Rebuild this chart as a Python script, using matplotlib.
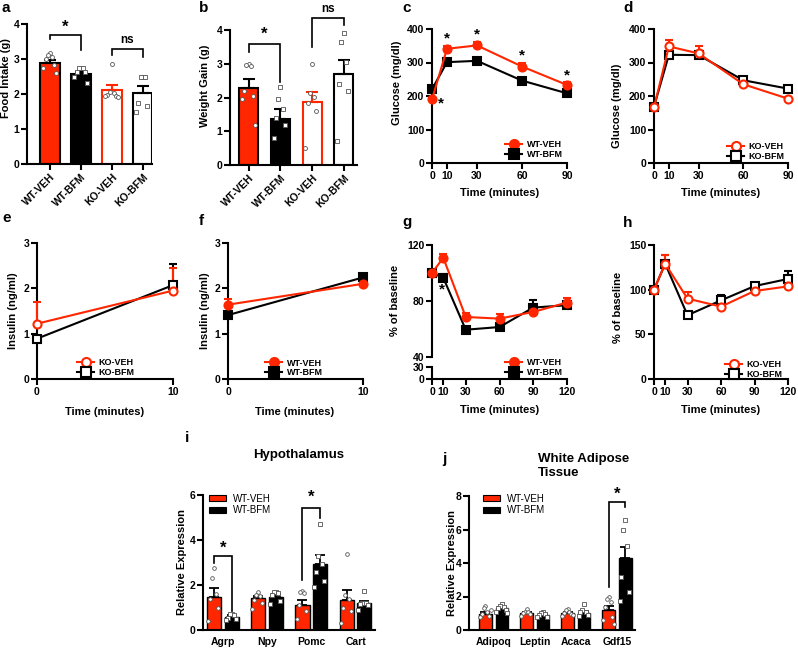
import numpy as np
import matplotlib
matplotlib.use('Agg')
import matplotlib.pyplot as plt
import matplotlib.transforms as mtransforms
from matplotlib.lines import Line2D
from matplotlib.patches import Patch

plt.rcParams['font.family'] = ['Liberation Sans', 'DejaVu Sans']
plt.rcParams['font.weight'] = 'bold'
plt.rcParams['axes.labelweight'] = 'bold'

W, H = 798, 649
RED = '#FF2600'

# ---------------- data ----------------
groups_ab = ['WT-VEH', 'WT-BFM', 'KO-VEH', 'KO-BFM']
food_mean = [2.88, 2.56, 2.10, 2.02]
food_err = [0.10, 0.08, 0.15, 0.20]
food_pts = [[3.17, 3.11, 3.06, 3.00, 2.83, 2.75, 2.60],
            [2.74, 2.74, 2.74, 2.63, 2.63, 2.49, 2.31],
            [2.85, 2.05, 2.02, 1.98, 1.95, 1.93, 1.92],
            [2.49, 2.49, 2.49, 1.74, 1.67, 1.49]]

gain_mean = [2.28, 1.35, 1.87, 2.70]
gain_err = [0.27, 0.32, 0.28, 0.40]
gain_pts = [[3.00, 2.95, 2.92, 2.20, 2.05, 1.95, 1.20],
            [2.30, 1.96, 1.66, 1.40, 1.20, 0.81],
            [3.00, 2.12, 2.02, 1.85, 1.60, 0.50],
            [3.90, 3.65, 3.05, 2.40, 2.20, 0.70]]

t_gtt = [0, 10, 30, 60, 90]
c_wtveh = [190, 341, 351, 288, 233]
c_wtveh_err = [5, 9, 9, 10, 10]
c_wtbfm = [220, 301, 305, 246, 208]
c_wtbfm_err = [6, 6, 6, 6, 6]
d_koveh = [166, 348, 327, 235, 192]
d_koveh_err = [5, 20, 21, 6, 6]
d_kobfm = [168, 323, 322, 247, 222]
d_kobfm_err = [5, 6, 6, 6, 6]

t_ins = [0, 10]
e_koveh = [1.22, 1.95]
e_koveh_err = [0.48, 0.49]
e_kobfm = [0.89, 2.07]
e_kobfm_err = [0.05, 0.47]
f_wtveh = [1.64, 2.10]
f_wtveh_err = [0.12, 0.05]
f_wtbfm = [1.41, 2.24]
f_wtbfm_err = [0.05, 0.07]

t_itt = [0, 10, 30, 60, 90, 120]
g_wtveh = [100, 110.9, 68.6, 67.4, 72.2, 78.9]
g_wtveh_err = [0, 3, 2.5, 3.5, 1.5, 3]
g_wtbfm = [100, 96.6, 59.5, 61.4, 75.3, 77.0]
g_wtbfm_err = [0, 2.5, 1.5, 1.5, 5.5, 1.5]
h_koveh = [100, 129, 90, 81, 98.5, 103.7]
h_koveh_err = [0, 10, 7, 2, 2, 2]
h_kobfm = [100, 129, 71.4, 88, 104, 112]
h_kobfm_err = [0, 10, 2, 6, 2, 9]

i_genes = ['Agrp', 'Npy', 'Pomc', 'Cart']
i_veh_mean = [1.48, 1.44, 1.11, 1.32]
i_veh_err = [0.37, 0.08, 0.24, 0.46]
i_bfm_mean = [0.59, 1.47, 2.93, 1.18]
i_bfm_err = [0.09, 0.12, 0.42, 0.10]
i_veh_pts = [[2.75, 2.30, 1.60, 1.40, 1.00, 0.38],
             [1.70, 1.55, 1.50, 1.35, 1.20, 0.95],
             [1.75, 1.70, 1.65, 1.10, 0.85, 0.47],
             [3.40, 1.55, 1.40, 1.00, 0.85, 0.30]]
i_bfm_pts = [[0.72, 0.70, 0.65, 0.55, 0.50, 0.45],
             [1.70, 1.70, 1.65, 1.55, 1.30, 1.15],
             [4.70, 3.30, 2.95, 2.60, 2.20, 1.90],
             [1.75, 1.20, 1.20, 1.15, 1.10, 0.90]]

j_genes = ['Adipoq', 'Leptin', 'Acaca', 'Gdf15']
j_veh_mean = [0.95, 1.00, 1.03, 1.19]
j_veh_err = [0.15, 0.05, 0.07, 0.26]
j_bfm_mean = [1.29, 0.90, 1.03, 4.28]
j_bfm_err = [0.11, 0.08, 0.12, 0.67]
j_veh_pts = [[1.45, 1.30, 1.10, 0.95, 0.85, 0.75, 1.20],
             [1.25, 1.10, 1.05, 1.00, 0.95, 0.85],
             [1.25, 1.20, 1.10, 1.00, 0.95, 0.85, 0.90],
             [2.00, 1.85, 1.70, 1.40, 0.80, 0.60, 0.35]]
j_bfm_pts = [[1.55, 1.45, 1.35, 1.30, 1.20, 1.10, 1.00],
             [1.10, 1.00, 0.95, 0.90, 0.80, 0.75],
             [1.55, 1.20, 1.10, 1.05, 0.90, 0.85],
             [6.55, 5.95, 5.00, 3.15, 2.25, 1.75]]

# ---------------- helpers ----------------
fig = plt.figure(figsize=(W / 100, H / 100), dpi=100)
TICK = 7.5
LAB = 8


def ax_px(x0, x1, ytop, ybot):
    a = fig.add_axes([x0 / W, 1 - ybot / H, (x1 - x0) / W, (ybot - ytop) / H])
    a.patch.set_visible(False)
    return a


def style(ax):
    for s in ['top', 'right']:
        ax.spines[s].set_visible(False)
    for s in ['left', 'bottom']:
        ax.spines[s].set_linewidth(1.5)
    ax.tick_params(width=1.5, length=4, labelsize=TICK, pad=1.5)


def ylab(ax, text, xc, yc, size=LAB):
    ax.set_ylabel(text, fontsize=size, fontweight='bold')
    ax.yaxis.set_label_coords((xc + 5) / W, 1 - yc / H, transform=fig.transFigure)


def xlab(ax, text, xc, yc, size=LAB):
    ax.set_xlabel(text, fontsize=size, fontweight='bold')
    ax.xaxis.set_label_coords(xc / W, 1 - (yc - 5) / H, transform=fig.transFigure)


def spread(n, w):
    base = [0, -1, 1, -2, 2, -3, 3, -0.5, 0.5]
    return np.array(base[:n]) * w


def scatter_pts(ax, xc, pts, marker, w=0.06, s=8):
    ax.scatter(xc + spread(len(pts), w), pts, marker=marker, s=s, facecolor='white',
               edgecolor='#555555', linewidth=0.6, zorder=4, clip_on=False)


def bracket(ax, x0, x1, ytop, yl, yr, lw=1.2):
    ax.plot([x0, x0, x1, x1], [yl, ytop, ytop, yr], color='black', lw=lw,
            clip_on=False, zorder=5, solid_joinstyle='miter')


def star(ax, x, y, txt='*', size=12):
    ax.text(x, y, txt, ha='center', va='center', fontsize=size, fontweight='bold', clip_on=False)


def panel(x, y, t):
    fig.text(x / W, 1 - y / H, t, fontsize=11, fontweight='bold', ha='left', va='center')


def line_series(ax, t, y, err, color, marker, filled, ms=5.8):
    ax.errorbar(t, y, yerr=[np.zeros(len(err)), err], color=color, lw=1.5, marker=marker,
                ms=ms, mfc=color if filled else 'white', mec=color, mew=1.5,
                capsize=3, capthick=1.5, elinewidth=1.5, clip_on=False, zorder=3)


def line_legend(ax, labels, colors, markers, filled, left_px, cy_px, size=6.5):
    hs = [Line2D([], [], color=c, marker=m, ms=6.5, lw=1.5, mfc=c if f else 'white', mec=c, mew=1.5)
          for c, m, f in zip(colors, markers, filled)]
    leg = ax.legend(hs, labels, loc='center left', bbox_to_anchor=(left_px / W, 1 - cy_px / H),
                    bbox_transform=fig.transFigure, frameon=False, prop={'size': size, 'weight': 'bold'},
                    handlelength=1.9, handletextpad=0.5, labelspacing=0.1, borderpad=0, borderaxespad=0)
    leg.set_zorder(10)


faces_ab = [RED, 'black', 'white', 'white']
edges_ab = ['black', 'black', RED, 'black']
mk_ab = ['o', 's', 'o', 's']


def bar_panel(ax, means, errs, pts, xlim, width):
    x = np.arange(len(means))
    ax.bar(x, means, width=width, color=faces_ab, edgecolor=edges_ab, linewidth=1.5, zorder=2)
    for i in range(len(means)):
        ax.errorbar(x[i], means[i], yerr=[[0], [errs[i]]], fmt='none', ecolor=edges_ab[i],
                    elinewidth=1.5, capsize=4, capthick=1.5, zorder=3)
        scatter_pts(ax, x[i], pts[i], mk_ab[i], w=0.07)
    ax.set_xlim(*xlim)
    ax.set_ylim(0, 4)
    ax.set_yticks([0, 1, 2, 3, 4])
    ax.set_xticks(x)
    ax.set_xticklabels(groups_ab, rotation=45, ha='right', rotation_mode='anchor', fontsize=TICK)
    shift = mtransforms.ScaledTranslation(9 / 100, 0, fig.dpi_scale_trans)
    for lbl in ax.get_xticklabels():
        lbl.set_transform(lbl.get_transform() + shift)
    style(ax)


# ---------------- panel a ----------------
ax = ax_px(27, 152, 24, 164)
bar_panel(ax, food_mean, food_err, food_pts, (-0.74, 3.30), 0.63)
bracket(ax, 0, 1, 3.70, 3.56, 3.26)
star(ax, 0.5, 3.90)
bracket(ax, 2, 3, 3.28, 3.11, 3.07)
star(ax, 2.5, 3.55, 'ns', 8.5)
ylab(ax, 'Food Intake (g)', 6, 78)
panel(2, 8, 'a')

# ---------------- panel b ----------------
ax = ax_px(230, 357, 30, 165)
bar_panel(ax, gain_mean, gain_err, gain_pts, (-0.59, 3.42), 0.60)
bracket(ax, 0, 1, 3.60, 3.36, 2.47)
star(ax, 0.5, 3.86)
bracket(ax, 2, 3, 4.35, 3.50, 4.15)
star(ax, 2.5, 4.62, 'ns', 8.5)
ylab(ax, 'Weight Gain (g)', 205, 86)
panel(199, 8, 'b')

# ---------------- panel c ----------------
ax = ax_px(432, 567, 29, 163)
line_series(ax, t_gtt, c_wtbfm, c_wtbfm_err, 'black', 's', True)
line_series(ax, t_gtt, c_wtveh, c_wtveh_err, RED, 'o', True)
ax.set_xlim(0, 90)
ax.set_ylim(0, 400)
ax.set_xticks(t_gtt)
ax.set_yticks([0, 100, 200, 300, 400])
style(ax)
for xx, yy in zip([6, 10, 30, 60, 90], [178, 373, 383, 320, 260]):
    star(ax, xx, yy, size=11)
line_legend(ax, ['WT-VEH', 'WT-BFM'], [RED, 'black'], ['o', 's'], [True, True], 505, 149.5)
ylab(ax, 'Glucose (mg/dl)', 397, 83)
xlab(ax, 'Time (minutes)', 500, 193)
panel(402, 8, 'c')

# ---------------- panel d ----------------
ax = ax_px(654, 788, 29, 163)
line_series(ax, t_gtt, d_kobfm, d_kobfm_err, 'black', 's', False)
line_series(ax, t_gtt, d_koveh, d_koveh_err, RED, 'o', False)
ax.set_xlim(0, 90)
ax.set_ylim(0, 400)
ax.set_xticks(t_gtt)
ax.set_yticks([0, 100, 200, 300, 400])
style(ax)
line_legend(ax, ['KO-VEH', 'KO-BFM'], [RED, 'black'], ['o', 's'], [False, False], 727, 151.5)
ylab(ax, 'Glucose (mg/dl)', 617, 106)
xlab(ax, 'Time (minutes)', 721, 193)
panel(623, 8, 'd')

# ---------------- panel e ----------------
ax = ax_px(37, 173, 243, 379)
line_series(ax, t_ins, e_kobfm, e_kobfm_err, 'black', 's', False)
line_series(ax, t_ins, e_koveh, e_koveh_err, RED, 'o', False)
ax.set_xlim(0, 10)
ax.set_ylim(0, 3)
ax.set_xticks(t_ins)
ax.set_yticks([0, 1, 2, 3])
style(ax)
line_legend(ax, ['KO-VEH', 'KO-BFM'], [RED, 'black'], ['o', 's'], [False, False], 77, 367.5)
ylab(ax, 'Insulin (ng/ml)', 13, 311)
xlab(ax, 'Time (minutes)', 105, 412)
panel(2, 218, 'e')

# ---------------- panel f ----------------
ax = ax_px(228, 363, 243, 379)
line_series(ax, t_ins, f_wtbfm, f_wtbfm_err, 'black', 's', True)
line_series(ax, t_ins, f_wtveh, f_wtveh_err, RED, 'o', True)
ax.set_xlim(0, 10)
ax.set_ylim(0, 3)
ax.set_xticks(t_ins)
ax.set_yticks([0, 1, 2, 3])
style(ax)
line_legend(ax, ['WT-VEH', 'WT-BFM'], [RED, 'black'], ['o', 's'], [True, True], 265, 368)
ylab(ax, 'Insulin (ng/ml)', 205, 311)
xlab(ax, 'Time (minutes)', 295, 412)
panel(199, 221, 'f')

# ---------------- panel g (broken axis) ----------------
axg2 = ax_px(432, 567, 367, 379)
axg2.set_xlim(0, 120)
axg2.set_ylim(0, 30)
axg2.set_yticks([0, 30])
axg2.set_xticks(t_itt)
style(axg2)
axg = ax_px(432, 567, 245, 357)
line_series(axg, t_itt, g_wtbfm, g_wtbfm_err, 'black', 's', True)
line_series(axg, t_itt, g_wtveh, g_wtveh_err, RED, 'o', True)
axg.set_xlim(0, 120)
axg.set_ylim(40, 120)
axg.set_yticks([40, 80, 120])
style(axg)
axg.spines['bottom'].set_visible(False)
axg.tick_params(axis='x', bottom=False, labelbottom=False)
star(axg, 9, 88, size=11)
line_legend(axg, ['WT-VEH', 'WT-BFM'], [RED, 'black'], ['o', 's'], [True, True], 505, 367.5)
ylab(axg, '% of baseline', 395, 300)
xlab(axg2, 'Time (minutes)', 500, 410)
panel(402, 222, 'g')

# ---------------- panel h ----------------
ax = ax_px(654, 788, 245, 379)
line_series(ax, t_itt, h_kobfm, h_kobfm_err, 'black', 's', False)
line_series(ax, t_itt, h_koveh, h_koveh_err, RED, 'o', False)
ax.set_xlim(0, 120)
ax.set_ylim(0, 150)
ax.set_xticks(t_itt)
ax.set_yticks([0, 50, 100, 150])
style(ax)
line_legend(ax, ['KO-VEH', 'KO-BFM'], [RED, 'black'], ['o', 's'], [False, False], 725, 369.5)
ylab(ax, '% of baseline', 618, 307)
xlab(ax, 'Time (minutes)', 721, 410)
panel(623, 223, 'h')


# ---------------- expression panels ----------------
def expr_panel(ax, genes, vm, ve, bm, be, vp, bp, off, width):
    x = np.arange(len(genes))
    ax.bar(x - off, vm, width=width, color=RED, edgecolor='black', linewidth=1.0, zorder=2)
    ax.bar(x + off, bm, width=width, color='black', edgecolor='black', linewidth=1.0, zorder=2)
    ax.errorbar(x - off, vm, yerr=[np.zeros(len(ve)), ve], fmt='none', ecolor='black',
                elinewidth=1.3, capsize=3.5, capthick=1.3, zorder=3)
    ax.errorbar(x + off, bm, yerr=[np.zeros(len(be)), be], fmt='none', ecolor='black',
                elinewidth=1.3, capsize=3.5, capthick=1.3, zorder=3)
    for k in range(len(genes)):
        scatter_pts(ax, x[k] - off, vp[k], 'o', w=0.045, s=7)
        scatter_pts(ax, x[k] + off, bp[k], 's', w=0.045, s=7)
    ax.set_xticks(x)
    ax.set_xticklabels(genes, fontsize=8)
    style(ax)
    ax.tick_params(axis='x', length=0, pad=5)
    return x


def expr_legend(ax, left_px, cy_px):
    hs = [Patch(facecolor=RED, edgecolor='black', lw=0.8), Patch(facecolor='black', edgecolor='black', lw=0.8)]
    ax.legend(hs, ['WT-VEH', 'WT-BFM'], loc='center left', bbox_to_anchor=(left_px / W, 1 - cy_px / H),
              bbox_transform=fig.transFigure, frameon=False, prop={'size': 7, 'weight': 'normal'},
              handlelength=1.7, handleheight=0.6, handletextpad=0.8, labelspacing=0.15,
              borderpad=0, borderaxespad=0)


# panel i
ax = ax_px(203, 375, 495, 630)
expr_panel(ax, i_genes, i_veh_mean, i_veh_err, i_bfm_mean, i_bfm_err, i_veh_pts, i_bfm_pts, 0.2, 0.32)
ax.set_xlim(-0.45, 3.44)
ax.set_ylim(0, 6)
ax.set_yticks([0, 2, 4, 6])
bracket(ax, -0.2, 0.2, 3.29, 3.00, 0.85)
star(ax, 0.0, 3.62)
bracket(ax, 1.8, 2.2, 5.44, 2.22, 5.00)
star(ax, 2.0, 5.92)
expr_legend(ax, 209, 504.5)
ylab(ax, 'Relative Expression', 182, 562)
fig.text(299 / W, 1 - 455 / H, 'Hypothalamus', fontsize=9.5, fontweight='bold', ha='center', va='center')
panel(185, 438, 'i')

# panel j
ax = ax_px(469, 635, 496, 630)
expr_panel(ax, j_genes, j_veh_mean, j_veh_err, j_bfm_mean, j_bfm_err, j_veh_pts, j_bfm_pts, 0.2, 0.31)
ax.set_xlim(-0.6, 3.44)
ax.set_ylim(0, 8)
ax.set_yticks([0, 2, 4, 6, 8])
bracket(ax, 2.8, 3.2, 7.66, 2.59, 7.32)
star(ax, 3.0, 8.08)
expr_legend(ax, 483, 504.5)
ylab(ax, 'Relative Expression', 452, 563)
fig.text(538 / W, 1 - 466 / H, 'White Adipose\nTissue', fontsize=9.5, fontweight='bold', ha='left',
         va='center', linespacing=1.15)
panel(442, 459, 'j')

fig.savefig('out.png', dpi=100)
